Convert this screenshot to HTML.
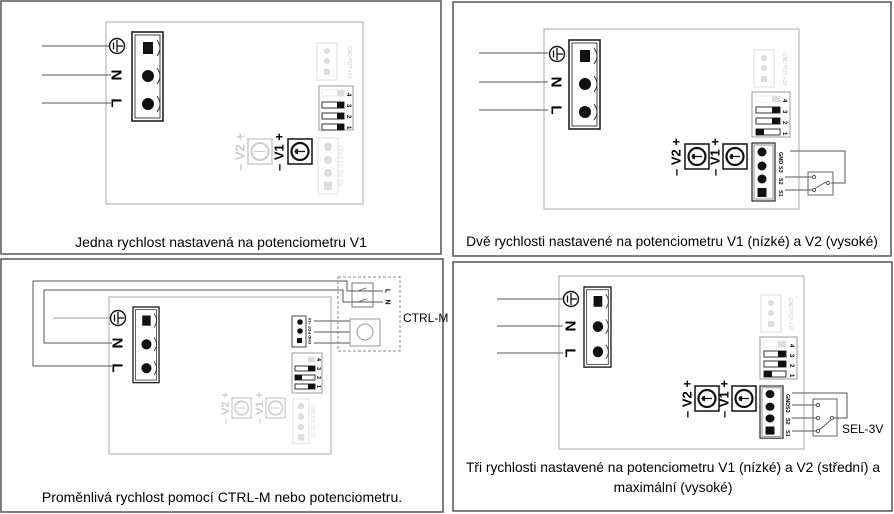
<!DOCTYPE html>
<html><head><meta charset="utf-8"><style>
html,body{margin:0;padding:0;background:#fff;}
svg{display:block;}
text{font-family:"Liberation Sans",sans-serif;}
</style></head><body>
<svg width="894" height="514" viewBox="0 0 894 514" xmlns="http://www.w3.org/2000/svg">
<defs>
  <g id="term">
    <rect x="0" y="0" width="31" height="89" fill="#fff" stroke="#222" stroke-width="1.6"/>
    <rect x="3" y="3" width="25" height="83" fill="none" stroke="#444" stroke-width="1"/>
    <rect x="11" y="10" width="10" height="12" fill="#111"/>
    <circle cx="16" cy="44" r="6" fill="#111"/>
    <circle cx="16" cy="72" r="6" fill="#111"/>
    <path d="M25,8 q6,8 0,16 M25,36 q6,8 0,16 M25,64 q6,8 0,16" fill="#fff" stroke="#333" stroke-width="1"/>
  </g>
  <g id="gnd">
    <circle cx="0" cy="0" r="7.5" fill="#fff" stroke="#111" stroke-width="1.4"/>
    <line x1="0" y1="-6" x2="0" y2="6" stroke="#111" stroke-width="1.3"/>
    <line x1="-3.5" y1="-3.5" x2="-3.5" y2="3.5" stroke="#111" stroke-width="1.3"/>
    <line x1="0" y1="0" x2="6" y2="0" stroke="#111" stroke-width="1.3"/>
  </g>
  <g id="pot">
    <rect x="0" y="0" width="24" height="25" fill="#fff" stroke="#111" stroke-width="1.5"/>
    <circle cx="12" cy="12.5" r="8.5" fill="none" stroke="#111" stroke-width="2.2"/>
    <line x1="8" y1="12.5" x2="17" y2="12.5" stroke="#111" stroke-width="1.3"/>
    <path d="M6,12.5 l4,-3 v6 z" fill="#111"/>
    <line x1="8" y1="10" x2="8" y2="15" stroke="#111" stroke-width="1.2"/>
  </g>
  <g id="potf">
    <rect x="0" y="0" width="24" height="25" fill="#fff" stroke="#ccc" stroke-width="1.5"/>
    <circle cx="12" cy="12.5" r="8.5" fill="none" stroke="#ccc" stroke-width="2"/>
    <line x1="6" y1="12.5" x2="17" y2="12.5" stroke="#ccc" stroke-width="1.3"/>
  </g>
  <g id="connf">
    <rect x="0" y="0" width="20" height="37" fill="none" stroke="#ddd" stroke-width="1"/>
    <circle cx="10" cy="8" r="3" fill="#ddd"/><circle cx="10" cy="18" r="3" fill="#ddd"/>
    <rect x="7" y="26" width="6" height="6" fill="#ddd"/>
  </g>
  <g id="conn4f">
    <rect x="0" y="0" width="20" height="56" fill="none" stroke="#ddd" stroke-width="1"/>
    <circle cx="10" cy="9" r="4" fill="#ddd"/><circle cx="10" cy="22" r="4" fill="#ddd"/>
    <circle cx="10" cy="35" r="4" fill="#ddd"/><rect x="6" y="44" width="8" height="8" fill="#ddd"/>
  </g>
  <g id="conn4">
    <rect x="0" y="0" width="23" height="58" fill="#fff" stroke="#333" stroke-width="1.3"/>
    <rect x="2" y="2" width="19" height="54" fill="none" stroke="#777" stroke-width="0.8"/>
    <circle cx="10" cy="9" r="4.5" fill="#111"/><circle cx="10" cy="23" r="4.5" fill="#111"/>
    <circle cx="10" cy="36" r="4.5" fill="#111"/><rect x="5.5" y="45" width="9" height="9" fill="#111"/>
  </g>
</defs>

<!-- ========== Panel 1 ========== -->
<rect x="1" y="1" width="440" height="253" fill="none" stroke="#555" stroke-width="1.5"/>
<rect x="106" y="22" width="257" height="182" fill="none" stroke="#aaa" stroke-width="1"/>
<g stroke="#555" stroke-width="1"><line x1="42" y1="46" x2="111" y2="46"/><line x1="42" y1="75" x2="111" y2="75"/><line x1="42" y1="103" x2="111" y2="103"/></g>
<use href="#gnd" x="117" y="46"/>
<text transform="translate(116,75) rotate(90)" font-size="15" font-weight="bold" text-anchor="middle" dominant-baseline="central">N</text>
<text transform="translate(116,103) rotate(90)" font-size="15" font-weight="bold" text-anchor="middle" dominant-baseline="central">L</text>
<use href="#term" x="132" y="32"/>
<use href="#connf" x="317" y="43"/>
<text transform="translate(348,62) rotate(90)" font-size="5" fill="#ccc" text-anchor="middle">GND POT +10</text>
<rect x="319" y="86" width="34" height="44" fill="#fff" stroke="#999" stroke-width="1"/>
<g><rect x="322" y="90" width="22" height="6" fill="none" stroke="#eee"/><rect x="337" y="90" width="7" height="6" fill="#ddd"/>
<rect x="322" y="102" width="22" height="6" fill="none" stroke="#333"/><rect x="337" y="102" width="7" height="6" fill="#111"/>
<rect x="322" y="113" width="22" height="6" fill="none" stroke="#333"/><rect x="337" y="113" width="7" height="6" fill="#111"/>
<rect x="322" y="124" width="22" height="6" fill="none" stroke="#333"/><rect x="337" y="124" width="7" height="6" fill="#111"/></g>
<g font-size="6" font-weight="bold"><text transform="translate(347,93) rotate(90)">4</text><text transform="translate(347,104) rotate(90)">3</text><text transform="translate(347,115) rotate(90)">2</text><text transform="translate(347,126) rotate(90)">1</text></g>
<use href="#potf" x="248" y="139"/>
<text transform="translate(240,152) rotate(-90)" font-size="13" font-weight="bold" fill="#ccc" text-anchor="middle" dominant-baseline="central">– V2 +</text>
<use href="#pot" x="288" y="139"/>
<text transform="translate(279,152) rotate(-90)" font-size="13" font-weight="bold" text-anchor="middle" dominant-baseline="central">– V1 +</text>
<use href="#conn4f" x="318" y="138"/>
<text transform="translate(343,166) rotate(-90)" font-size="6" fill="#ddd" text-anchor="middle">S1  S2  S3 GND</text>
<text x="221" y="247" font-size="14" text-anchor="middle">Jedna rychlost nastavená na potenciometru V1</text>

<!-- ========== Panel 2 ========== -->
<rect x="453" y="2" width="438" height="254" fill="none" stroke="#555" stroke-width="1.5"/>
<rect x="544" y="29" width="255" height="180" fill="none" stroke="#aaa" stroke-width="1"/>
<g stroke="#555" stroke-width="1"><line x1="479" y1="53" x2="548" y2="53"/><line x1="479" y1="82" x2="548" y2="82"/><line x1="479" y1="110" x2="548" y2="110"/></g>
<use href="#gnd" x="557" y="54"/>
<text transform="translate(556,82) rotate(90)" font-size="15" font-weight="bold" text-anchor="middle" dominant-baseline="central">N</text>
<text transform="translate(556,110) rotate(90)" font-size="15" font-weight="bold" text-anchor="middle" dominant-baseline="central">L</text>
<use href="#term" x="569" y="40"/>
<use href="#connf" x="754" y="50"/>
<text transform="translate(783,69) rotate(90)" font-size="5" fill="#ccc" text-anchor="middle">GND POT +10</text>
<rect x="752" y="92" width="38" height="45" fill="#fff" stroke="#999" stroke-width="1"/>
<g><rect x="756" y="96" width="24" height="6" fill="none" stroke="#eee"/><rect x="772" y="96" width="8" height="6" fill="#ddd"/>
<rect x="756" y="107" width="24" height="6" fill="none" stroke="#333"/><rect x="772" y="107" width="8" height="6" fill="#111"/>
<rect x="756" y="118" width="24" height="6" fill="none" stroke="#333"/><rect x="772" y="118" width="8" height="6" fill="#111"/>
<rect x="756" y="129" width="24" height="6" fill="none" stroke="#333"/><rect x="756" y="129" width="8" height="6" fill="#111"/></g>
<g font-size="6" font-weight="bold"><text transform="translate(783,99) rotate(90)">4</text><text transform="translate(783,110) rotate(90)">3</text><text transform="translate(783,121) rotate(90)">2</text><text transform="translate(783,132) rotate(90)">1</text></g>
<use href="#pot" x="685" y="144"/>
<text transform="translate(676,157) rotate(-90)" font-size="13" font-weight="bold" text-anchor="middle" dominant-baseline="central">– V2 +</text>
<use href="#pot" x="723" y="144"/>
<text transform="translate(715,157) rotate(-90)" font-size="13" font-weight="bold" text-anchor="middle" dominant-baseline="central">– V1 +</text>
<use href="#conn4" x="752" y="143"/>
<g font-size="5.5" font-weight="bold"><text transform="translate(780,152) rotate(90)" dominant-baseline="central">GND</text><text transform="translate(780,166) rotate(90)" dominant-baseline="central">S3</text><text transform="translate(780,178) rotate(90)" dominant-baseline="central">S2</text><text transform="translate(780,190) rotate(90)" dominant-baseline="central">S1</text></g>
<rect x="808" y="172" width="25" height="23" fill="#fff" stroke="#666"/>
<g stroke="#555" fill="none" stroke-width="1">
<polyline points="790,151 845,151 845,183 831,183"/>
<line x1="785" y1="177" x2="812" y2="177"/><line x1="785" y1="190" x2="812" y2="190"/>
<line x1="814" y1="189" x2="826" y2="182"/>
<circle cx="814" cy="177" r="1.6" fill="#fff"/><circle cx="814" cy="190" r="1.6" fill="#fff"/><circle cx="828" cy="183" r="1.6" fill="#fff"/></g>
<text x="672" y="246" font-size="13.8" text-anchor="middle">Dvě rychlosti nastavené na potenciometru V1 (nízké) a V2 (vysoké)</text>

<!-- ========== Panel 3 ========== -->
<rect x="1" y="259" width="442" height="253" fill="none" stroke="#555" stroke-width="1.5"/>
<rect x="109" y="297" width="222" height="157" fill="none" stroke="#aaa" stroke-width="1"/>
<line x1="53" y1="318" x2="112" y2="318" stroke="#999"/>
<g stroke="#555" fill="none" stroke-width="1">
<polyline points="112,343 44,343 44,290 343,290 343,302 353,302"/>
<polyline points="112,366 33,366 33,281 347,281 347,291 353,291"/>
<line x1="314" y1="321" x2="350" y2="321"/><line x1="314" y1="332" x2="350" y2="332"/><line x1="314" y1="343" x2="350" y2="343"/>
</g>
<use href="#gnd" x="118" y="318"/>
<text transform="translate(117,343) rotate(90)" font-size="15" font-weight="bold" text-anchor="middle" dominant-baseline="central">N</text>
<text transform="translate(117,368) rotate(90)" font-size="15" font-weight="bold" text-anchor="middle" dominant-baseline="central">L</text>
<g transform="translate(133,307) scale(0.84,0.85)"><use href="#term"/></g>
<rect x="338" y="277" width="62" height="74" fill="none" stroke="#888" stroke-dasharray="3,2"/>
<rect x="352" y="283" width="21" height="24" fill="#fff" stroke="#777"/>
<g stroke="#555" fill="none" stroke-width="0.9"><line x1="352" y1="291" x2="383" y2="291"/><line x1="352" y1="302" x2="383" y2="302"/>
<line x1="358" y1="291" x2="366" y2="288"/><line x1="358" y1="302" x2="366" y2="299"/></g>
<g font-size="7" font-weight="bold"><text transform="translate(387,291) rotate(90)" text-anchor="middle" dominant-baseline="central">L</text><text transform="translate(387,302) rotate(90)" text-anchor="middle" dominant-baseline="central">N</text></g>
<rect x="350" y="319" width="30" height="27" fill="#fff" stroke="#999"/>
<circle cx="365" cy="332" r="8" fill="none" stroke="#999"/>
<text x="403" y="322" font-size="12">CTRL-M</text>
<rect x="292" y="316" width="14" height="31" fill="#fff" stroke="#444"/>
<circle cx="300" cy="322" r="2.8" fill="#111"/><circle cx="300" cy="331" r="2.8" fill="#111"/><rect x="297" y="338" width="5" height="5" fill="#111"/>
<text transform="translate(311,331) rotate(-90)" font-size="4" font-weight="bold" text-anchor="middle">GND POT +10</text>
<rect x="292" y="353" width="30" height="40" fill="#fff" stroke="#999"/>
<g><rect x="295" y="357" width="20" height="5" fill="none" stroke="#eee"/><rect x="308" y="357" width="7" height="5" fill="#ddd"/>
<rect x="295" y="366" width="20" height="5" fill="none" stroke="#333"/><rect x="308" y="366" width="7" height="5" fill="#111"/>
<rect x="295" y="375" width="20" height="5" fill="none" stroke="#333"/><rect x="295" y="375" width="7" height="5" fill="#111"/>
<rect x="295" y="384" width="20" height="5" fill="none" stroke="#333"/><rect x="308" y="384" width="7" height="5" fill="#111"/></g>
<g font-size="5.5" font-weight="bold"><text transform="translate(317,358) rotate(90)">4</text><text transform="translate(317,367) rotate(90)">3</text><text transform="translate(317,376) rotate(90)">2</text><text transform="translate(317,385) rotate(90)">1</text></g>
<g transform="translate(232,398) scale(0.8)"><use href="#potf"/></g>
<text transform="translate(226,408) rotate(-90)" font-size="11" font-weight="bold" fill="#ccc" text-anchor="middle" dominant-baseline="central">– V2 +</text>
<g transform="translate(266,398) scale(0.8)"><use href="#potf"/></g>
<text transform="translate(260,408) rotate(-90)" font-size="11" font-weight="bold" fill="#ccc" text-anchor="middle" dominant-baseline="central">– V1 +</text>
<g transform="translate(293,399) scale(0.8)"><use href="#conn4f"/></g>
<text transform="translate(315,422) rotate(-90)" font-size="5" fill="#ddd" text-anchor="middle">S1 S2 S3GND</text>
<text x="222" y="502" font-size="14" text-anchor="middle">Proměnlivá rychlost pomocí CTRL-M nebo potenciometru.</text>

<!-- ========== Panel 4 ========== -->
<rect x="453" y="262" width="439" height="249" fill="none" stroke="#555" stroke-width="1.5"/>
<rect x="559" y="276" width="245" height="173" fill="none" stroke="#aaa" stroke-width="1"/>
<g stroke="#555" stroke-width="1"><line x1="497" y1="299" x2="563" y2="299"/><line x1="497" y1="326" x2="563" y2="326"/><line x1="497" y1="353" x2="563" y2="353"/></g>
<use href="#gnd" x="571" y="299"/>
<text transform="translate(570,326) rotate(90)" font-size="15" font-weight="bold" text-anchor="middle" dominant-baseline="central">N</text>
<text transform="translate(570,353) rotate(90)" font-size="15" font-weight="bold" text-anchor="middle" dominant-baseline="central">L</text>
<g transform="translate(584,287) scale(0.87,0.9)"><use href="#term"/></g>
<use href="#connf" x="761" y="295"/>
<text transform="translate(789,314) rotate(90)" font-size="5" fill="#ccc" text-anchor="middle">GND POT +10</text>
<rect x="760" y="337" width="37" height="42" fill="#fff" stroke="#999" stroke-width="1"/>
<g><rect x="764" y="341" width="22" height="6" fill="none" stroke="#eee"/><rect x="778" y="341" width="8" height="6" fill="#ddd"/>
<rect x="764" y="351" width="22" height="6" fill="none" stroke="#333"/><rect x="778" y="351" width="8" height="6" fill="#111"/>
<rect x="764" y="361" width="22" height="6" fill="none" stroke="#333"/><rect x="778" y="361" width="8" height="6" fill="#111"/>
<rect x="764" y="371" width="22" height="6" fill="none" stroke="#333"/><rect x="764" y="371" width="8" height="6" fill="#111"/></g>
<g font-size="6" font-weight="bold"><text transform="translate(790,344) rotate(90)">4</text><text transform="translate(790,354) rotate(90)">3</text><text transform="translate(790,364) rotate(90)">2</text><text transform="translate(790,374) rotate(90)">1</text></g>
<use href="#pot" x="695" y="386"/>
<text transform="translate(687,399) rotate(-90)" font-size="13" font-weight="bold" text-anchor="middle" dominant-baseline="central">– V2 +</text>
<use href="#pot" x="732" y="386"/>
<text transform="translate(724,399) rotate(-90)" font-size="13" font-weight="bold" text-anchor="middle" dominant-baseline="central">– V1 +</text>
<g transform="translate(760,386) scale(1,0.9)"><use href="#conn4"/></g>
<g font-size="5.5" font-weight="bold"><text transform="translate(787,394) rotate(90)" dominant-baseline="central">GND</text><text transform="translate(787,406) rotate(90)" dominant-baseline="central">S3</text><text transform="translate(787,418) rotate(90)" dominant-baseline="central">S2</text><text transform="translate(787,430) rotate(90)" dominant-baseline="central">S1</text></g>
<rect x="813" y="399" width="24" height="37" fill="#fff" stroke="#666"/>
<g stroke="#555" fill="none" stroke-width="1">
<polyline points="792,393 847,393 847,418 834,418"/>
<line x1="792" y1="405" x2="817" y2="405"/><line x1="792" y1="418" x2="817" y2="418"/><line x1="792" y1="431" x2="817" y2="431"/>
<line x1="819" y1="430" x2="831" y2="420"/>
<circle cx="818" cy="405" r="1.6" fill="#fff"/><circle cx="818" cy="418" r="1.6" fill="#fff"/><circle cx="818" cy="431" r="1.6" fill="#fff"/><circle cx="832" cy="418" r="1.6" fill="#fff"/></g>
<text x="842" y="433" font-size="12">SEL-3V</text>
<text x="673" y="472" font-size="13.8" text-anchor="middle">Tři rychlosti nastavené na potenciometru V1 (nízké) a V2 (střední) a</text>
<text x="673" y="492" font-size="13.8" text-anchor="middle">maximální (vysoké)</text>
</svg>
</body></html>
